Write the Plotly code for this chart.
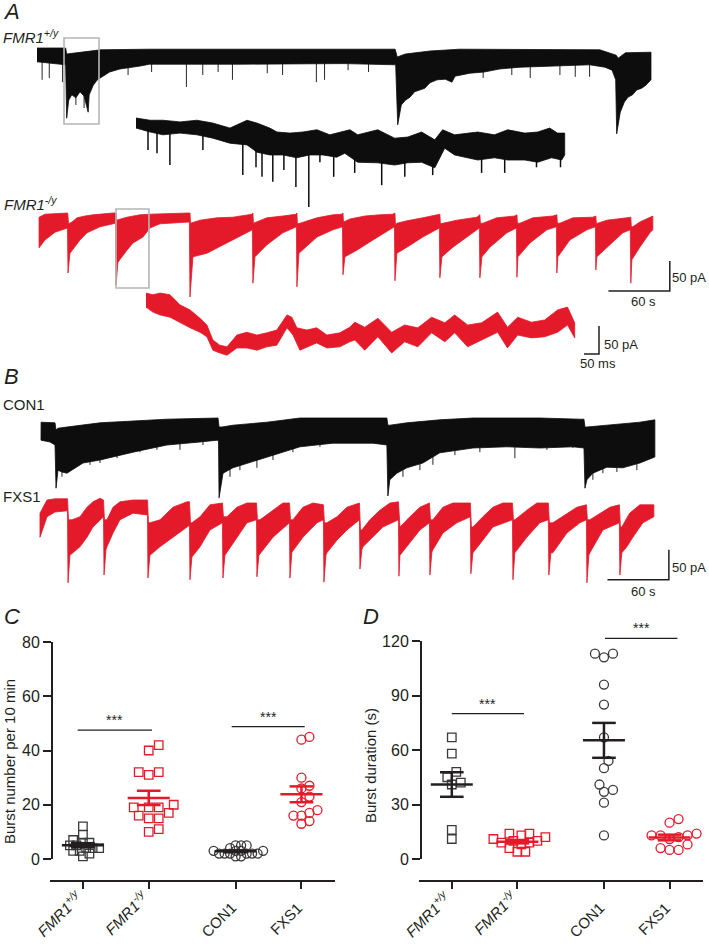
import numpy as np
import plotly.graph_objects as go

# ============================ DATA ============================
# Panel A/B recordings, described by the upper and lower envelope of the
# current trace (time in s, current in pA relative to baseline) plus the
# tips of the sharpest downward events.
a1_top_t = [0, 28, 29, 37, 62, 110, 350, 352, 360, 384, 413, 550, 566, 568, 575, 600]
a1_top_i = [0, 0, -10, -8, -3, -2, -2, -15, -10, -5, -2, -3, -12, -17, -8, -7]
a1_bot_t = [0, 28, 29, 31, 34, 38, 42, 46, 50, 51, 55, 59, 62, 66, 71, 81, 91, 101, 110, 200,
            300, 350.5, 352.5, 356, 360, 364.5, 369, 374, 379, 384, 391, 399, 405.5, 408.5, 423, 437,
            452, 472, 506, 540, 555, 562, 565.5, 566.5, 570, 574, 577.5, 582, 586, 591, 595, 600]
a1_bot_i = [-23, -28, -117, -87, -78, -83, -73, -80, -107, -78, -62, -53, -50, -45, -40, -35, -32, -30, -27, -27,
            -26, -28, -128, -95, -87, -82, -73, -70, -67, -58, -53, -52, -57, -47, -42, -40,
            -35, -32, -30, -28, -32, -37, -53, -143, -107, -90, -82, -78, -70, -67, -62, -53]
a1_spk_t = [5, 12, 25, 89, 112, 146, 162, 177, 191, 225, 240, 273, 281, 304, 324, 436, 464, 482, 511, 526, 540, 38, 46]
a1_spk_i = [-53, -50, -57, -45, -40, -65, -45, -40, -53, -42, -45, -57, -53, -37, -40, -50, -45, -50, -45, -48, -48, -95, -100]

# black inset (time in ms)
ai_top_t = [0, 47, 90, 147, 203, 256, 313, 370, 403, 446, 470, 513, 556, 603, 646, 689, 713, 739, 806, 862,
            906, 952, 996, 1022, 1062, 1139, 1195, 1239, 1296, 1339, 1379, 1405, 1429]
ai_top_i = [0, -4, -4, -7, -4, -9, -18, -4, -9, -18, -25, -27, -25, -21, -30, -25, -21, -30, -21, -36,
            -34, -25, -39, -21, -30, -25, -30, -21, -27, -25, -18, -27, -27]
ai_bot_t = [0, 47, 90, 147, 203, 256, 313, 370, 403, 446, 490, 536, 579, 623, 669, 696, 739, 806, 862, 906,
            952, 996, 1029, 1062, 1139, 1195, 1239, 1296, 1339, 1385, 1419, 1429]
ai_bot_i = [-18, -25, -30, -27, -30, -36, -45, -48, -61, -66, -66, -71, -66, -66, -70, -63, -79, -80, -84, -80,
            -79, -89, -54, -66, -75, -71, -75, -75, -79, -71, -75, -66]
ai_spk_t = [40, 70, 113, 223, 356, 400, 420, 456, 493, 533, 576, 613, 659, 729, 819, 896, 989, 1152, 1229, 1335, 1415]
ai_spk_i = [-57, -63, -84, -57, -102, -88, -105, -114, -93, -123, -159, -79, -105, -98, -120, -105, -102, -98, -98, -88, -88]

# FMR1-/y overview (red)
a2_top_t = [2, 7.8, 30, 30.8, 34.2, 39.1, 46.9, 54.7, 74.3, 77.2, 77.7, 81.1, 87.9, 100.6, 110.4, 147.5, 149.5, 150,
            159.3, 175.9, 191.5, 210.1, 211, 211.5, 214.9, 224.7, 240.3, 253, 254, 254.5, 257, 273.6, 289.2, 298,
            299, 299.5, 305.8, 320.5, 335.1, 347.8, 349.8, 350.3, 351.7, 361.5, 377.1, 391.8, 393.7, 394.2, 396.7,
            410.3, 429.9, 432.8, 433.3, 435.8, 449.4, 467, 469, 469.5, 471.9, 484.6, 504.1, 508, 508.5, 510.9,
            523.7, 543.2, 546.1, 546.6, 548.1, 556.9, 576.4, 580.3, 580.8, 582.3, 589.1, 598.9, 601.8]
a2_top_i = [-7, -2, 0, -18, -15, -8, -5, -3, 0, 0, -12, -10, -7, -3, -2, 0, 0, -17,
            -12, -8, -7, -2, 0, -17, -15, -8, -5, -2, 0, -18, -17, -8, -3, -2,
            0, -15, -10, -5, -3, -2, 0, -20, -17, -13, -8, -3, -2, -18, -17,
            -12, -7, -3, -17, -17, -8, -5, -3, -17, -17, -8, -5, -3, -17, -17,
            -8, -7, -5, -17, -17, -12, -8, -7, -23, -23, -15, -7, -5]
a2_bot_t = [2, 7.8, 17.6, 29.8, 30.3, 32.2, 42, 48.9, 61.6, 76.7, 77.2, 79.1, 87.9, 93.8, 103.6, 110.4, 120.2,
            148.9, 149.5, 152.4, 166.1, 175.9, 191.5, 210.5, 211, 213, 224.7, 240.3, 253.5, 254, 256, 273.6,
            289.2, 298.5, 299, 300.9, 312.6, 328.3, 349.3, 349.8, 351.7, 361.5, 377.1, 393.2, 393.7, 395.7,
            406.4, 426, 432.3, 432.8, 434.8, 442.6, 459.2, 468.5, 469, 470, 481.7, 498.3, 507.6, 508, 509,
            520.7, 537.4, 545.7, 546.1, 547.1, 556.9, 572.5, 579.8, 580.3, 581.3, 589.1, 598.9, 601.8]
a2_bot_i = [-58, -45, -32, -25, -100, -67, -45, -33, -23, -17, -120, -82, -62, -50, -40, -25, -18,
            -15, -140, -73, -67, -58, -45, -28, -117, -73, -53, -33, -23, -123, -67, -40,
            -28, -23, -103, -73, -62, -45, -23, -113, -67, -57, -40, -25, -108, -73,
            -57, -33, -25, -108, -73, -57, -33, -25, -107, -73, -50, -28, -23, -100, -73,
            -45, -28, -23, -95, -73, -57, -33, -28, -117, -78, -57, -33, -28]

# red inset (time in ms)
ri_top_t = [0, 23, 47, 80, 113, 147, 180, 203, 223, 246, 270, 303, 336, 370, 403, 436, 470, 486, 503, 536,
            569, 603, 646, 679, 696, 729, 773, 819, 862, 906, 952, 996, 1029, 1072, 1119, 1172, 1205, 1239,
            1285, 1329, 1372, 1405, 1429]
ri_top_i = [7, 4, 7, 4, -14, -23, -38, -50, -77, -86, -89, -68, -63, -68, -64, -59, -32, -36, -55, -59,
            -55, -68, -64, -54, -45, -54, -38, -63, -50, -55, -36, -46, -32, -50, -46, -27, -54, -36,
            -45, -41, -23, -18, -46]
ri_bot_t = [0, 23, 47, 80, 113, 147, 180, 203, 223, 246, 270, 303, 336, 370, 403, 436, 470, 490, 513, 536,
            569, 603, 646, 679, 696, 729, 773, 819, 862, 906, 952, 996, 1029, 1072, 1119, 1172, 1205, 1239,
            1285, 1329, 1372, 1405, 1429]
ri_bot_i = [-18, -27, -32, -36, -45, -55, -63, -71, -95, -100, -104, -91, -91, -95, -89, -86, -55, -68, -95, -89,
            -82, -91, -89, -80, -77, -95, -71, -100, -80, -89, -64, -80, -64, -89, -77, -63, -91, -68,
            -73, -71, -63, -50, -73]

# CON1 (black)
b1_top_t = [4, 17.6, 18.6, 20.5, 29.3, 61.6, 127, 172, 176.9, 177.9, 180.8, 191.5, 224.7, 257, 297, 341.9,
            342.9, 344.8, 361.5, 393.7, 426, 491.5, 530.6, 534.5, 535.5, 537.4, 556.9, 589.1, 603.8]
b1_top_i = [-7, -8, -20, -17, -15, -8, -2, 0, 0, -15, -15, -12, -7, 0, 0, 0,
            -12, -12, -8, -3, 0, 0, -2, -2, -15, -15, -12, -7, -3]
b1_bot_t = [3.9, 12.7, 17.6, 18.6, 20.5, 24.4, 29.3, 37.1, 45, 61.6, 93.8, 127, 159.3, 175.9, 177.4, 177.9,
            181.8, 191.5, 208.1, 224.7, 240.3, 257, 289.2, 315.6, 328.3, 341.9, 342.9, 344.8, 351.7, 361.5,
            377.1, 393.7, 426, 459.2, 491.5, 523.7, 534.5, 535.5, 537.4, 543.2, 556.9, 572.5, 589.1, 603.8]
b1_bot_i = [-37, -40, -45, -117, -87, -90, -92, -83, -75, -70, -57, -45, -40, -37, -38, -133,
            -92, -83, -75, -65, -57, -48, -42, -42, -42, -45, -130, -103, -92, -83,
            -75, -58, -50, -48, -50, -48, -50, -117, -103, -92, -82, -83, -75, -65]
b1_spk_t = [24.4, 51.8, 61.6, 78.2, 100.6, 117.2, 139.7, 162.2, 188.6, 198.3, 214.9, 230.6, 250.1, 276.5,
            357.6, 374.2, 386.9, 408.4, 432.8, 467, 498.3, 523.7, 543.2, 553, 566.7, 586.2, 600.9]
b1_spk_i = [-98, -78, -75, -67, -57, -53, -53, -45, -98, -87, -83, -70, -57, -48,
            -98, -87, -78, -62, -57, -67, -53, -50, -103, -92, -90, -87, -65]

# FXS1 (red)
b2_top_t = [2.9, 9.8, 17.6, 29.8, 30.8, 34.2, 42, 48.9, 54.7, 61.6, 65, 65.9, 68.4, 74.3, 81.1, 93.8, 108, 108.9,
            110.4, 120.2, 132.9, 146.6, 149, 150, 151.4, 159.3, 169, 178.8, 181.2, 182.2, 185.6, 195.4, 205.2,
            214.5, 215.4, 217.9, 230.6, 240.3, 246.7, 247.7, 250.1, 259.9, 269.7, 279.9, 280.9, 283.3, 293.1,
            302.9, 315.1, 316.1, 317.5, 325.3, 335.1, 344.9, 353.2, 354.2, 354.7, 364.4, 374.2, 383.5, 384.5,
            386.9, 396.7, 406.4, 423.5, 424.5, 426, 435.7, 445.5, 455.3, 464.6, 465.6, 467, 478.7, 488.5,
            499.7, 500.7, 504.1, 517.8, 527.6, 536.9, 537.9, 540.3, 550.1, 559.9, 569.1, 570.1, 571.5, 579.1,
            589.1, 602.8]
b2_top_i = [-22, 0, 2, 2, -33, -33, -28, -12, -3, 3, 0, -33, -33, -12, -3, 0, 0, -38,
            -38, -33, -12, -3, -3, -38, -38, -28, -8, -5, -5, -28, -28, -12, -5,
            -5, -33, -33, -17, -5, -5, -33, -33, -12, -5, -8, -38, -38, -28,
            -12, -5, -50, -50, -33, -17, -5, -3, -45, -45, -28, -12, -5, -33,
            -33, -12, -5, -5, -45, -45, -28, -12, -5, -5, -33, -33, -17, -5,
            -5, -38, -38, -22, -12, -8, -33, -33, -22, -12, -8, -45, -45, -22,
            -8, -8]
b2_bot_t = [2.9, 9.8, 17.6, 29.8, 30.3, 32.2, 34.2, 42, 48.9, 54.7, 65, 65.5, 67.4, 68.4, 74.3, 81.1, 93.8, 108,
            108.4, 110.4, 120.2, 132.9, 146.6, 149, 149.5, 151.4, 159.3, 169, 181.2, 181.7, 183.7, 185.6, 195.4,
            205.2, 214.5, 214.9, 216.9, 217.9, 230.6, 246.7, 247.2, 249.1, 250.1, 259.9, 273.6, 279.9, 280.4,
            282.4, 283.3, 293.1, 302.9, 315.1, 315.6, 317.5, 318.5, 328.3, 338, 353.2, 353.7, 354.7, 364.4,
            374.2, 383.5, 384, 385.9, 386.9, 396.7, 410.3, 423.5, 424, 426, 435.7, 445.5, 464.6, 465.1, 467,
            478.7, 491.4, 499.7, 500.2, 502.2, 504.1, 517.8, 530.5, 536.9, 537.4, 539.3, 540.3, 553, 569.1,
            569.6, 571.5, 576.4, 582.3, 592.1, 602.8]
b2_bot_i = [-62, -28, -20, -18, -138, -92, -88, -78, -62, -45, -28, -125, -83, -78, -55, -33, -22, -25,
            -130, -92, -78, -62, -45, -42, -133, -95, -78, -50, -38, -130, -92, -88, -62,
            -38, -33, -128, -92, -88, -62, -38, -130, -87, -83, -62, -38, -33, -137,
            -92, -88, -67, -50, -33, -115, -83, -78, -62, -45, -33, -127, -92, -72,
            -50, -38, -125, -87, -83, -55, -38, -28, -123, -88, -67, -45, -33, -133, -88,
            -62, -38, -33, -125, -88, -88, -55, -38, -33, -138, -92, -88, -50, -38,
            -125, -88, -78, -62, -38, -28]

# zoom windows shown by the grey boxes (time s, current pA)
box_a1_t = [26.4, 60.6]
box_a1_i = [16.7, -126.7]
box_a2_t = [77.2, 109.4]
box_a2_i = [6.7, -125]

# Panel C: burst number per 10 min
groups = ['FMR1+/y', 'FMR1-/y', 'CON1', 'FXS1']
tick_text = ['<i>FMR1<sup>+/y</sup></i>', '<i>FMR1<sup>-/y</sup></i>', 'CON1', 'FXS1']
c_fmr1_wt = [12, 9, 7, 6, 6, 5, 5, 4, 4, 4, 3, 3, 2, 1]
c_fmr1_ko = [42, 40, 32, 32, 31, 20, 19, 19, 19, 17, 16, 15, 15, 11, 10]
c_con1 = [5, 5, 5, 4, 3, 3, 3, 3, 2, 2, 2, 2, 2, 2, 1, 1]
c_fxs1 = [45, 44, 30, 27, 26, 23, 21, 18, 17, 16, 16, 14, 13]
c_ticks = [0, 20, 40, 60, 80]

# Panel D: burst duration (s)
d_fmr1_wt = [67, 58, 48, 45, 42, 41, 16, 11]
d_fmr1_ko = [14, 14, 13, 12, 11, 10, 10, 9, 9, 8, 6, 4, 4]
d_con1 = [113, 111, 113, 96, 85, 67, 54, 50, 41, 37, 38, 31, 13]
d_fxs1 = [22, 20, 14, 13, 13, 13, 12, 11, 8, 6, 5, 5]
d_ticks = [0, 30, 60, 90, 120]

# ============================ STYLE / LAYOUT ============================
W, H = 709, 944
INK = '#231f20'
MARK = '#3a3a3a'
RED = '#e41a2b'
BLK = '#0d0d0d'
GRAY = '#b5b5b5'
FONT = 'Arial, "Liberation Sans", Helvetica, sans-serif'

S_PX = 1.0233     # px per s (overview traces)
PA_PX = 0.6       # px per pA (overview traces)
MS_PX = 0.3       # px per ms (insets)
PA_PX_IN = 0.56   # px per pA (insets)

fig = go.Figure()
layout = dict(width=W, height=H, margin=dict(l=0, r=0, t=0, b=0, autoexpand=False),
              paper_bgcolor='white', plot_bgcolor='rgba(0,0,0,0)', showlegend=False)
shapes, annots = [], []


def axname(letter, i):
    return f'{letter}axis' if i == 1 else f'{letter}axis{i}'


def axref(letter, i):
    return letter if i == 1 else f'{letter}{i}'


def trace_axes(i, box, origin, sx, sy):
    l, r, t, b = box
    ox, oy = origin
    layout[axname('x', i)] = dict(domain=[l / W, r / W], range=[(l - ox) / sx, (r - ox) / sx],
                                  visible=False, anchor=axref('y', i), fixedrange=True, automargin=False)
    layout[axname('y', i)] = dict(domain=[1 - b / H, 1 - t / H], range=[-(b - oy) / sy, (oy - t) / sy],
                                  visible=False, anchor=axref('x', i), fixedrange=True, automargin=False)


def band(i, tt, it, tb, ib, color):
    x = list(tt) + list(tb)[::-1] + [tt[0]]
    y = list(it) + list(ib)[::-1] + [it[0]]
    fig.add_trace(go.Scatter(x=x, y=y, mode='lines', fill='toself', fillcolor=color,
                             line=dict(color=color, width=0.8), xaxis=axref('x', i),
                             yaxis=axref('y', i), hoverinfo='skip'))


def spikes(i, st, si, tb, ib, color, w=0.9):
    xs, ys = [], []
    for t, v in zip(st, si):
        base = float(np.interp(t, tb, ib)) + 6
        xs += [t, t, None]
        ys += [base, v, None]
    fig.add_trace(go.Scatter(x=xs, y=ys, mode='lines', line=dict(color=color, width=w),
                             xaxis=axref('x', i), yaxis=axref('y', i), hoverinfo='skip'))


def scalebar(i, corner, dx, dy, lab_v, lab_h):
    cx, cy = corner
    fig.add_trace(go.Scatter(x=[cx - dx, cx, cx], y=[cy, cy, cy + dy], mode='lines',
                             line=dict(color=INK, width=1.5), xaxis=axref('x', i),
                             yaxis=axref('y', i), hoverinfo='skip'))
    for txt, (x, y), anc in [(lab_v[0], lab_v[1], lab_v[2]), (lab_h[0], lab_h[1], 'center')]:
        annots.append(dict(text=txt, x=x, y=y, xref=axref('x', i), yref=axref('y', i),
                           xanchor=anc, yanchor='middle', showarrow=False,
                           font=dict(family=FONT, size=13, color=INK)))


def label(text, x, y, size, anchor='left'):
    annots.append(dict(text=text, x=x / W, y=1 - y / H, xref='paper', yref='paper',
                       xanchor=anchor, yanchor='middle', showarrow=False,
                       font=dict(family=FONT, size=size, color=INK)))


# ---- trace rows
trace_axes(1, (37, 709, 28, 140), (37, 48), S_PX, PA_PX)
trace_axes(2, (136, 709, 100, 215), (136, 118), MS_PX, PA_PX_IN)
trace_axes(3, (37, 709, 195, 315), (37, 213), S_PX, PA_PX)
trace_axes(4, (146, 709, 285, 380), (146, 297), MS_PX, PA_PX_IN)
trace_axes(5, (37, 709, 405, 505), (37, 418), S_PX, PA_PX)
trace_axes(6, (37, 709, 488, 600), (37, 500), S_PX, PA_PX)

band(1, a1_top_t, a1_top_i, a1_bot_t, a1_bot_i, BLK)
spikes(1, a1_spk_t, a1_spk_i, a1_bot_t, a1_bot_i, BLK)
band(2, ai_top_t, ai_top_i, ai_bot_t, ai_bot_i, BLK)
spikes(2, ai_spk_t, ai_spk_i, ai_bot_t, ai_bot_i, BLK, w=1.5)
band(3, a2_top_t, a2_top_i, a2_bot_t, a2_bot_i, RED)
band(4, ri_top_t, ri_top_i, ri_bot_t, ri_bot_i, RED)
band(5, b1_top_t, b1_top_i, b1_bot_t, b1_bot_i, BLK)
spikes(5, b1_spk_t, b1_spk_i, b1_bot_t, b1_bot_i, BLK)
band(6, b2_top_t, b2_top_i, b2_bot_t, b2_bot_i, RED)

for i, bt, bi in [(1, box_a1_t, box_a1_i), (3, box_a2_t, box_a2_i)]:
    shapes.append(dict(type='rect', xref=axref('x', i), yref=axref('y', i), x0=bt[0], x1=bt[1],
                       y0=bi[0], y1=bi[1], line=dict(color=GRAY, width=1.6),
                       fillcolor='rgba(0,0,0,0)', layer='above'))

scalebar(3, (618.4, -130), 60, 50, ('50 pA', (655.5, -107), 'right'), ('60 s', (593, -148)))
scalebar(4, (1510, -101.8), 50, 50, ('50 pA', (1520, -85.7), 'left'), ('50 ms', (1507, -119.6)))
scalebar(6, (617.5, -133), 60, 50, ('50 pA', (655.5, -112), 'right'), ('60 s', (593, -152)))

label('<i>A</i>', 1, 11, 22)
label('<i>FMR1<sup>+/y</sup></i>', 1, 37, 15)
label('<i>FMR1<sup>-/y</sup></i>', 2, 203, 15)
label('<i>B</i>', 2, 376, 22)
label('CON1', 1, 404, 15)
label('FXS1', 1, 496, 15)
label('<i>C</i>', 2, 616, 22)
label('<i>D</i>', 361, 616, 22)


# ---- scatter panels C and D
def swarm(values, center, px_x, px_y, d):
    order = sorted(range(len(values)), key=lambda k: values[k])
    steps = [0.0]
    for s in range(1, 40):
        steps += [s * d * 0.5, -s * d * 0.5]
    placed, out = [], [0.0] * len(values)
    for k in order:
        yk = values[k] * px_y
        off = 0.0
        for off in steps:
            if all((off - a) ** 2 + (yk - b) ** 2 >= 0.9 * d * d for a, b in placed):
                break
        placed.append((off, yk))
        out[k] = center + off / px_x
    return out


centers = [1, 2, 3.32, 4.32]
XR = [0.5, 4.83]
symbols = ['square-open', 'square-open', 'circle-open', 'circle-open']
mcolors = [MARK, RED, MARK, RED]
lcolors = [INK, RED, INK, RED]
# label placement: (top of rotated text box in px, horizontal shift in px)
lab_place = [(884, 5), (884, 5), (896, 7), (896, 7)]

panels = [
    dict(i=7, xpx=(50, 335), ypx=(642, 859), yline=52, yr=[0, 80], yt=c_ticks,
         data=[c_fmr1_wt, c_fmr1_ko, c_con1, c_fxs1], title='Burst number per 10 min', txy=(9, 762),
         sig=[(0.92, 2.05, 47.5), (3.26, 4.37, 48.8)], spread=[6.5, 10, 5.5, 8]),
    dict(i=8, xpx=(419, 703), ypx=(641, 859), yline=421, yr=[0, 120], yt=d_ticks,
         data=[d_fmr1_wt, d_fmr1_ko, d_con1, d_fxs1], title='Burst duration (s)', txy=(370, 766),
         sig=[(1.0, 2.1, 80), (3.335, 4.44, 121.5)], spread=[9, 8, 9, 9]),
]

XAXIS_Y = 881
for p in panels:
    i = p['i']
    xl, xr_ = p['xpx']
    yt_, yb_ = p['ypx']
    layout[axname('x', i)] = dict(
        domain=[xl / W, xr_ / W], range=XR, anchor='free', position=(H - XAXIS_Y) / H,
        tickmode='array', tickvals=centers, showticklabels=False,
        ticks='outside', ticklen=7, tickwidth=2, tickcolor=INK, showline=True, linewidth=2,
        linecolor=INK, showgrid=False, zeroline=False, fixedrange=True, automargin=False)
    layout[axname('y', i)] = dict(
        domain=[1 - yb_ / H, 1 - yt_ / H], range=p['yr'], anchor='free', position=p['yline'] / W,
        tickmode='array', tickvals=p['yt'], ticks='outside', ticklen=8, tickwidth=2, tickcolor=INK,
        showline=True, linewidth=2, linecolor=INK, showgrid=False, zeroline=False, fixedrange=True,
        automargin=False, tickfont=dict(family=FONT, size=16, color=INK))
    px_x = (xr_ - xl) / (XR[1] - XR[0])
    px_y = (yb_ - yt_) / (p['yr'][1] - p['yr'][0])
    for g, vals in enumerate(p['data']):
        xs = swarm(vals, centers[g], px_x, px_y, p['spread'][g])
        fig.add_trace(go.Scatter(
            x=xs, y=vals, mode='markers', cliponaxis=False,
            marker=dict(symbol=symbols[g], size=8.5 if g < 2 else 9, color=mcolors[g],
                        line=dict(width=1.3, color=mcolors[g])),
            xaxis=axref('x', i), yaxis=axref('y', i), hoverinfo='skip'))
    for g, vals in enumerate(p['data']):
        m = float(np.mean(vals))
        s = float(np.std(vals, ddof=1) / np.sqrt(len(vals)))
        c = centers[g]
        fig.add_trace(go.Scatter(
            x=[c - 0.32, c + 0.32, None, c - 0.18, c + 0.18, None, c - 0.18, c + 0.18, None, c, c],
            y=[m, m, None, m + s, m + s, None, m - s, m - s, None, m - s, m + s],
            mode='lines', line=dict(color=lcolors[g], width=2.5), cliponaxis=False,
            xaxis=axref('x', i), yaxis=axref('y', i), hoverinfo='skip'))
    # category labels, rotated, ending at the tick
    for g, txt in enumerate(tick_text):
        ytop, xsh = lab_place[g]
        annots.append(dict(text=txt, x=centers[g], y=1 - ytop / H, xref=axref('x', i),
                           yref='paper', xanchor='right', yanchor='top', xshift=xsh, textangle=-45,
                           showarrow=False, font=dict(family=FONT, size=15, color=INK)))
    yr = p['yr']
    for x0, x1, lev in p['sig']:
        fx0 = (x0 - XR[0]) / (XR[1] - XR[0])
        fx1 = (x1 - XR[0]) / (XR[1] - XR[0])
        fy = (lev - yr[0]) / (yr[1] - yr[0])
        shapes.append(dict(type='line', xref=axref('x', i) + ' domain', yref=axref('y', i) + ' domain',
                           x0=fx0, x1=fx1, y0=fy, y1=fy, line=dict(color=INK, width=1.2)))
        annots.append(dict(text='***', x=(fx0 + fx1) / 2, y=fy, xref=axref('x', i) + ' domain',
                           yref=axref('y', i) + ' domain', xanchor='center', yanchor='middle',
                           yshift=10, showarrow=False, font=dict(family=FONT, size=14, color=INK)))
    tx, ty = p['txy']
    annots.append(dict(text=p['title'], x=tx / W, y=1 - ty / H, xref='paper', yref='paper',
                       textangle=-90, xanchor='center', yanchor='middle', showarrow=False,
                       font=dict(family=FONT, size=15, color=INK)))

layout['shapes'] = shapes
layout['annotations'] = annots
fig.update_layout(**layout)
fig.write_html('out.html', config={'displayModeBar': False, 'staticPlot': True},
               post_script="document.body.style.margin='0px';document.body.style.padding='0px';")
